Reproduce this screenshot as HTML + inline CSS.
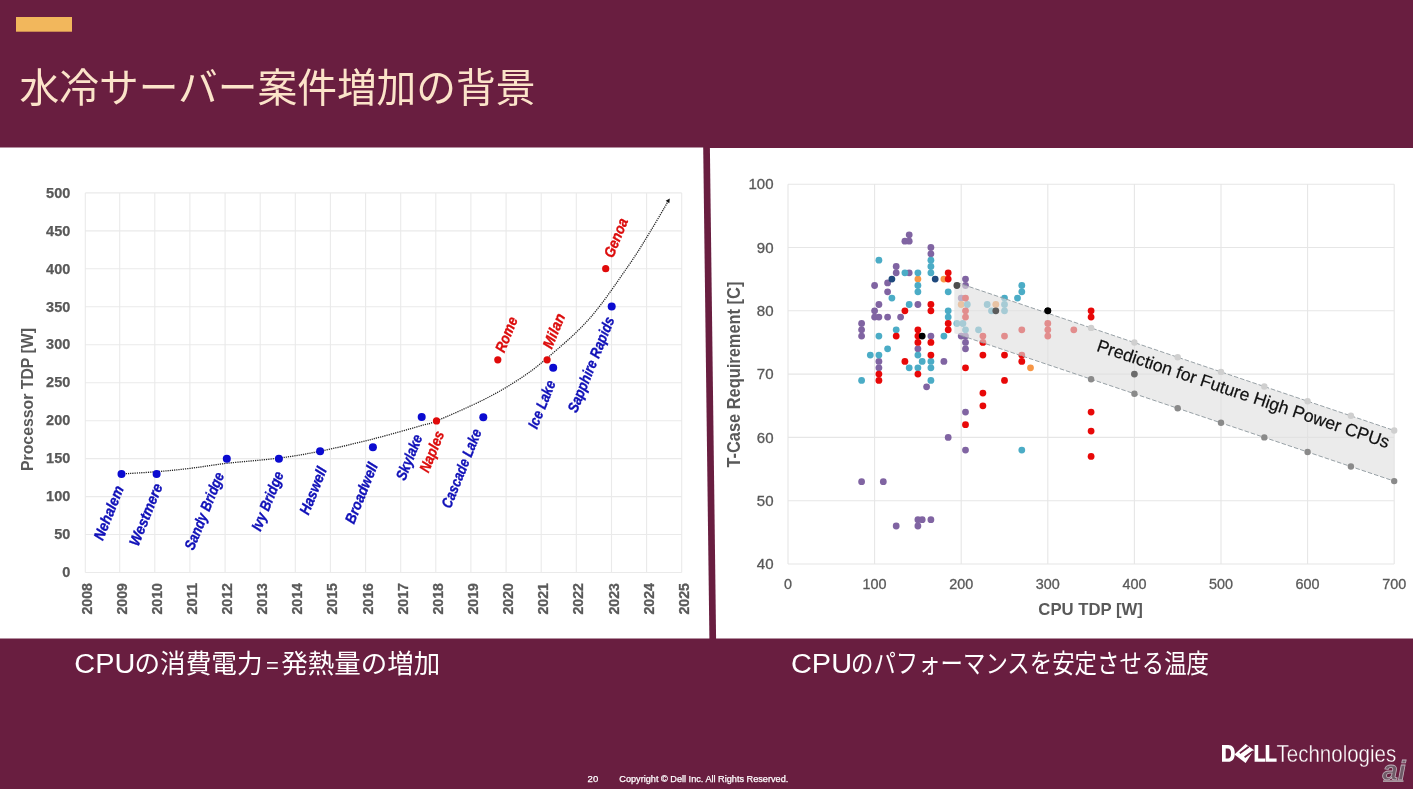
<!DOCTYPE html>
<html lang="ja"><head><meta charset="utf-8"><title>水冷サーバー案件増加の背景</title>
<style>
html,body{margin:0;padding:0;background:#691e40;}
body{width:1413px;height:789px;overflow:hidden;position:relative;font-family:"Liberation Sans", sans-serif;}
svg{position:absolute;left:0;top:0;}
text{font-family:"Liberation Sans", sans-serif;}
.jp{font-family:"Liberation Sans", "Noto Sans CJK JP", sans-serif;}
.sr{position:absolute;left:-9999px;top:-9999px;width:1px;height:1px;overflow:hidden;font-size:1px;color:transparent;}
.ytl{font-weight:bold;font-size:14.5px;fill:#595959;stroke:#595959;stroke-width:0.25px;text-anchor:end;}
.xtl{font-weight:bold;font-size:15.2px;fill:#595959;stroke:#595959;stroke-width:0.3px;text-anchor:end;}
.at{font-weight:bold;font-size:15.5px;fill:#595959;text-anchor:middle;}
.dl{font-weight:bold;font-style:italic;font-size:15px;stroke-width:0.35px;}
.rt{font-size:14.2px;fill:#595959;stroke:#595959;stroke-width:0.3px;}
</style></head><body>
<svg width="1413" height="789" viewBox="0 0 1413 789">
<rect width="1413" height="789" fill="#691e40"/>
<g style="will-change:transform">
<rect x="16" y="17" width="56" height="14.7" fill="#f2b75c"/>
<polygon points="0,147.5 703.2,147.5 709.4,638.5 0,638.5" fill="#fff"/>
<polygon points="709.9,148 1413,148 1413,638.5 716.1,638.5" fill="#fff"/>
<text class="jp" x="19.5" y="101.5" font-size="40" fill="#fbe3c9" textLength="516" lengthAdjust="spacingAndGlyphs">水冷サーバー案件増加の背景</text>
<g style="filter:blur(0.45px)">
<path d="M85.3 192.9V572.5M119.7 192.9V572.5M154.8 192.9V572.5M189.9 192.9V572.5M225.1 192.9V572.5M260.2 192.9V572.5M295.3 192.9V572.5M330.4 192.9V572.5M365.6 192.9V572.5M400.7 192.9V572.5M435.8 192.9V572.5M470.9 192.9V572.5M506.1 192.9V572.5M541.2 192.9V572.5M576.3 192.9V572.5M611.5 192.9V572.5M646.6 192.9V572.5M681.7 192.9V572.5M85.3 572.5H681.7M85.3 534.5H681.7M85.3 496.6H681.7M85.3 458.6H681.7M85.3 420.7H681.7M85.3 382.7H681.7M85.3 344.7H681.7M85.3 306.8H681.7M85.3 268.8H681.7M85.3 230.9H681.7M85.3 192.9H681.7" stroke="#eaeaea" stroke-width="1.1" fill="none"/>
<text class="ytl" x="70.3" y="577.2" textLength="8.1" lengthAdjust="spacingAndGlyphs">0</text>
<text class="ytl" x="70.3" y="539.2" textLength="16.1" lengthAdjust="spacingAndGlyphs">50</text>
<text class="ytl" x="70.3" y="501.3" textLength="24.2" lengthAdjust="spacingAndGlyphs">100</text>
<text class="ytl" x="70.3" y="463.3" textLength="24.2" lengthAdjust="spacingAndGlyphs">150</text>
<text class="ytl" x="70.3" y="425.4" textLength="24.2" lengthAdjust="spacingAndGlyphs">200</text>
<text class="ytl" x="70.3" y="387.4" textLength="24.2" lengthAdjust="spacingAndGlyphs">250</text>
<text class="ytl" x="70.3" y="349.4" textLength="24.2" lengthAdjust="spacingAndGlyphs">300</text>
<text class="ytl" x="70.3" y="311.5" textLength="24.2" lengthAdjust="spacingAndGlyphs">350</text>
<text class="ytl" x="70.3" y="273.5" textLength="24.2" lengthAdjust="spacingAndGlyphs">400</text>
<text class="ytl" x="70.3" y="235.6" textLength="24.2" lengthAdjust="spacingAndGlyphs">450</text>
<text class="ytl" x="70.3" y="197.6" textLength="24.2" lengthAdjust="spacingAndGlyphs">500</text>
<text class="xtl" transform="translate(85.3,583) rotate(-90)" x="0" y="7" textLength="31.5" lengthAdjust="spacingAndGlyphs">2008</text>
<text class="xtl" transform="translate(119.7,583) rotate(-90)" x="0" y="7" textLength="31.5" lengthAdjust="spacingAndGlyphs">2009</text>
<text class="xtl" transform="translate(154.8,583) rotate(-90)" x="0" y="7" textLength="31.5" lengthAdjust="spacingAndGlyphs">2010</text>
<text class="xtl" transform="translate(189.9,583) rotate(-90)" x="0" y="7" textLength="31.5" lengthAdjust="spacingAndGlyphs">2011</text>
<text class="xtl" transform="translate(225.1,583) rotate(-90)" x="0" y="7" textLength="31.5" lengthAdjust="spacingAndGlyphs">2012</text>
<text class="xtl" transform="translate(260.2,583) rotate(-90)" x="0" y="7" textLength="31.5" lengthAdjust="spacingAndGlyphs">2013</text>
<text class="xtl" transform="translate(295.3,583) rotate(-90)" x="0" y="7" textLength="31.5" lengthAdjust="spacingAndGlyphs">2014</text>
<text class="xtl" transform="translate(330.4,583) rotate(-90)" x="0" y="7" textLength="31.5" lengthAdjust="spacingAndGlyphs">2015</text>
<text class="xtl" transform="translate(365.6,583) rotate(-90)" x="0" y="7" textLength="31.5" lengthAdjust="spacingAndGlyphs">2016</text>
<text class="xtl" transform="translate(400.7,583) rotate(-90)" x="0" y="7" textLength="31.5" lengthAdjust="spacingAndGlyphs">2017</text>
<text class="xtl" transform="translate(435.8,583) rotate(-90)" x="0" y="7" textLength="31.5" lengthAdjust="spacingAndGlyphs">2018</text>
<text class="xtl" transform="translate(470.9,583) rotate(-90)" x="0" y="7" textLength="31.5" lengthAdjust="spacingAndGlyphs">2019</text>
<text class="xtl" transform="translate(506.1,583) rotate(-90)" x="0" y="7" textLength="31.5" lengthAdjust="spacingAndGlyphs">2020</text>
<text class="xtl" transform="translate(541.2,583) rotate(-90)" x="0" y="7" textLength="31.5" lengthAdjust="spacingAndGlyphs">2021</text>
<text class="xtl" transform="translate(576.3,583) rotate(-90)" x="0" y="7" textLength="31.5" lengthAdjust="spacingAndGlyphs">2022</text>
<text class="xtl" transform="translate(611.5,583) rotate(-90)" x="0" y="7" textLength="31.5" lengthAdjust="spacingAndGlyphs">2023</text>
<text class="xtl" transform="translate(646.6,583) rotate(-90)" x="0" y="7" textLength="31.5" lengthAdjust="spacingAndGlyphs">2024</text>
<text class="xtl" transform="translate(681.7,583) rotate(-90)" x="0" y="7" textLength="31.5" lengthAdjust="spacingAndGlyphs">2025</text>
<text class="at" style="font-size:16.6px" transform="translate(33.4,399.5) rotate(-90)" textLength="143" lengthAdjust="spacingAndGlyphs">Processor TDP [W]</text>
<path d="M121.5 474.0C127.3 473.6 145.1 472.6 156.6 471.7C168.1 470.8 178.9 469.7 190.6 468.3C202.3 466.9 212.1 465.0 226.8 463.3C241.5 461.6 263.4 460.1 278.9 458.1C294.4 456.1 304.2 454.4 319.7 451.3C335.2 448.2 355.0 443.5 371.7 439.3C388.4 435.1 409.2 429.1 420.0 426.0C430.8 422.9 426.0 425.2 436.5 420.9C447.0 416.6 469.4 406.8 483.0 400.0C496.6 393.2 507.2 387.0 517.9 380.0C528.6 373.0 535.1 368.4 547.1 358.1C559.1 347.8 576.5 333.4 590.0 318.0C603.5 302.6 618.4 280.1 628.4 265.8C638.4 251.5 643.4 242.7 650.0 232.0C656.6 221.3 665.0 206.6 668.0 201.5" stroke="#222" stroke-width="1.3" stroke-dasharray="1.2 1" fill="none"/>
<polygon points="669.8,198.6 669.3,203.2 665.7,200.8" fill="#111"/>
<circle cx="121.5" cy="474.0" r="4" fill="#0b0bd0"/>
<circle cx="156.6" cy="474.0" r="4" fill="#0b0bd0"/>
<circle cx="226.8" cy="458.8" r="4" fill="#0b0bd0"/>
<circle cx="278.9" cy="458.8" r="4" fill="#0b0bd0"/>
<circle cx="320.1" cy="451.3" r="4" fill="#0b0bd0"/>
<circle cx="372.9" cy="447.3" r="4" fill="#0b0bd0"/>
<circle cx="421.7" cy="416.9" r="4" fill="#0b0bd0"/>
<circle cx="483.3" cy="417.2" r="4" fill="#0b0bd0"/>
<circle cx="553.2" cy="367.7" r="4" fill="#0b0bd0"/>
<circle cx="611.7" cy="306.6" r="4" fill="#0b0bd0"/>
<circle cx="436.5" cy="420.9" r="3.6" fill="#e00a0a"/>
<circle cx="497.8" cy="359.8" r="3.6" fill="#e00a0a"/>
<circle cx="547.1" cy="359.8" r="3.6" fill="#e00a0a"/>
<circle cx="605.7" cy="268.7" r="3.6" fill="#e00a0a"/>
<text class="dl" fill="#1010b8" stroke="#1010b8" transform="translate(108.8,512.9) rotate(-68)" x="0" y="5" text-anchor="middle" textLength="57.0" lengthAdjust="spacingAndGlyphs">Nehalem</text>
<text class="dl" fill="#1010b8" stroke="#1010b8" transform="translate(145.9,514.7) rotate(-68)" x="0" y="5" text-anchor="middle" textLength="65.7" lengthAdjust="spacingAndGlyphs">Westmere</text>
<text class="dl" fill="#1010b8" stroke="#1010b8" transform="translate(204.4,511.1) rotate(-68)" x="0" y="5" text-anchor="middle" textLength="82.3" lengthAdjust="spacingAndGlyphs">Sandy Bridge</text>
<text class="dl" fill="#1010b8" stroke="#1010b8" transform="translate(267.6,501.2) rotate(-68)" x="0" y="5" text-anchor="middle" textLength="62.5" lengthAdjust="spacingAndGlyphs">Ivy Bridge</text>
<text class="dl" fill="#1010b8" stroke="#1010b8" transform="translate(313.2,490.8) rotate(-68)" x="0" y="5" text-anchor="middle" textLength="49.6" lengthAdjust="spacingAndGlyphs">Haswell</text>
<text class="dl" fill="#1010b8" stroke="#1010b8" transform="translate(361.4,493.1) rotate(-68)" x="0" y="5" text-anchor="middle" textLength="64.2" lengthAdjust="spacingAndGlyphs">Broadwell</text>
<text class="dl" fill="#1010b8" stroke="#1010b8" transform="translate(409.2,457.3) rotate(-68)" x="0" y="5" text-anchor="middle" textLength="47.8" lengthAdjust="spacingAndGlyphs">Skylake</text>
<text class="dl" fill="#dc0c0c" stroke="#dc0c0c" transform="translate(431.9,451.6) rotate(-68)" x="0" y="5" text-anchor="middle" textLength="43.1" lengthAdjust="spacingAndGlyphs">Naples</text>
<text class="dl" fill="#1010b8" stroke="#1010b8" transform="translate(461.6,468.5) rotate(-68)" x="0" y="5" text-anchor="middle" textLength="83.6" lengthAdjust="spacingAndGlyphs">Cascade Lake</text>
<text class="dl" fill="#1010b8" stroke="#1010b8" transform="translate(541.8,404.5) rotate(-68)" x="0" y="5" text-anchor="middle" textLength="50.4" lengthAdjust="spacingAndGlyphs">Ice Lake</text>
<text class="dl" fill="#1010b8" stroke="#1010b8" transform="translate(591.1,364.6) rotate(-68)" x="0" y="5" text-anchor="middle" textLength="101.6" lengthAdjust="spacingAndGlyphs">Sapphire Rapids</text>
<text class="dl" fill="#dc0c0c" stroke="#dc0c0c" transform="translate(506.4,334.6) rotate(-68)" x="0" y="5" text-anchor="middle" textLength="36.7" lengthAdjust="spacingAndGlyphs">Rome</text>
<text class="dl" fill="#dc0c0c" stroke="#dc0c0c" transform="translate(554.0,330.9) rotate(-68)" x="0" y="5" text-anchor="middle" textLength="36.4" lengthAdjust="spacingAndGlyphs">Milan</text>
<text class="dl" fill="#dc0c0c" stroke="#dc0c0c" transform="translate(616.0,237.8) rotate(-68)" x="0" y="5" text-anchor="middle" textLength="41.2" lengthAdjust="spacingAndGlyphs">Genoa</text>
<path d="M788.0 184.2V564.0M874.6 184.2V564.0M961.2 184.2V564.0M1047.8 184.2V564.0M1134.4 184.2V564.0M1221.0 184.2V564.0M1307.6 184.2V564.0M1394.2 184.2V564.0M788.0 564.0H1394.2M788.0 500.7H1394.2M788.0 437.4H1394.2M788.0 374.1H1394.2M788.0 310.8H1394.2M788.0 247.5H1394.2M788.0 184.2H1394.2" stroke="#e6e6e6" stroke-width="1.1" fill="none"/>
<text class="rt" text-anchor="end" x="773.5" y="569.2" textLength="16.7" lengthAdjust="spacingAndGlyphs">40</text>
<text class="rt" text-anchor="end" x="773.5" y="505.9" textLength="16.7" lengthAdjust="spacingAndGlyphs">50</text>
<text class="rt" text-anchor="end" x="773.5" y="442.6" textLength="16.7" lengthAdjust="spacingAndGlyphs">60</text>
<text class="rt" text-anchor="end" x="773.5" y="379.3" textLength="16.7" lengthAdjust="spacingAndGlyphs">70</text>
<text class="rt" text-anchor="end" x="773.5" y="316.0" textLength="16.7" lengthAdjust="spacingAndGlyphs">80</text>
<text class="rt" text-anchor="end" x="773.5" y="252.7" textLength="16.7" lengthAdjust="spacingAndGlyphs">90</text>
<text class="rt" text-anchor="end" x="773.5" y="189.4" textLength="25.0" lengthAdjust="spacingAndGlyphs">100</text>
<text class="rt" text-anchor="middle" x="788.0" y="589" textLength="8.0" lengthAdjust="spacingAndGlyphs">0</text>
<text class="rt" text-anchor="middle" x="874.6" y="589" textLength="24.0" lengthAdjust="spacingAndGlyphs">100</text>
<text class="rt" text-anchor="middle" x="961.2" y="589" textLength="24.0" lengthAdjust="spacingAndGlyphs">200</text>
<text class="rt" text-anchor="middle" x="1047.8" y="589" textLength="24.0" lengthAdjust="spacingAndGlyphs">300</text>
<text class="rt" text-anchor="middle" x="1134.4" y="589" textLength="24.0" lengthAdjust="spacingAndGlyphs">400</text>
<text class="rt" text-anchor="middle" x="1221.0" y="589" textLength="24.0" lengthAdjust="spacingAndGlyphs">500</text>
<text class="rt" text-anchor="middle" x="1307.6" y="589" textLength="24.0" lengthAdjust="spacingAndGlyphs">600</text>
<text class="rt" text-anchor="middle" x="1394.2" y="589" textLength="24.0" lengthAdjust="spacingAndGlyphs">700</text>
<text class="at" style="font-size:17.5px" transform="translate(739.8,374.6) rotate(-90)" textLength="186" lengthAdjust="spacingAndGlyphs">T-Case Requirement [C]</text>
<text class="at" style="font-size:17px" x="1090.6" y="614.6" textLength="104.5" lengthAdjust="spacingAndGlyphs">CPU TDP [W]</text>
<g fill="#8064a2"><circle cx="909.2" cy="234.8" r="3.4"/><circle cx="904.9" cy="241.2" r="3.4"/><circle cx="909.2" cy="241.2" r="3.4"/><circle cx="930.9" cy="247.5" r="3.4"/><circle cx="930.9" cy="253.8" r="3.4"/><circle cx="896.2" cy="266.5" r="3.4"/><circle cx="896.2" cy="272.8" r="3.4"/><circle cx="909.2" cy="272.8" r="3.4"/><circle cx="887.6" cy="282.9" r="3.4"/><circle cx="874.6" cy="285.5" r="3.4"/><circle cx="965.5" cy="279.1" r="3.4"/><circle cx="965.5" cy="285.5" r="3.4"/><circle cx="887.6" cy="291.8" r="3.4"/><circle cx="878.9" cy="304.5" r="3.4"/><circle cx="917.9" cy="304.5" r="3.4"/><circle cx="874.6" cy="310.8" r="3.4"/><circle cx="874.6" cy="317.1" r="3.4"/><circle cx="878.9" cy="317.1" r="3.4"/><circle cx="887.6" cy="317.1" r="3.4"/><circle cx="900.6" cy="317.1" r="3.4"/><circle cx="861.6" cy="323.5" r="3.4"/><circle cx="861.6" cy="329.8" r="3.4"/><circle cx="861.6" cy="336.1" r="3.4"/><circle cx="961.2" cy="298.1" r="3.4"/><circle cx="930.9" cy="336.1" r="3.4"/><circle cx="917.9" cy="348.8" r="3.4"/><circle cx="878.9" cy="361.4" r="3.4"/><circle cx="878.9" cy="367.8" r="3.4"/><circle cx="943.9" cy="361.4" r="3.4"/><circle cx="926.6" cy="386.8" r="3.4"/><circle cx="961.2" cy="336.1" r="3.4"/><circle cx="965.5" cy="336.1" r="3.4"/><circle cx="965.5" cy="342.4" r="3.4"/><circle cx="965.5" cy="348.8" r="3.4"/><circle cx="965.5" cy="412.1" r="3.4"/><circle cx="948.2" cy="437.4" r="3.4"/><circle cx="965.5" cy="450.1" r="3.4"/><circle cx="861.6" cy="481.7" r="3.4"/><circle cx="883.3" cy="481.7" r="3.4"/><circle cx="896.2" cy="526.0" r="3.4"/><circle cx="917.9" cy="526.0" r="3.4"/><circle cx="917.9" cy="519.7" r="3.4"/><circle cx="922.2" cy="519.7" r="3.4"/><circle cx="930.9" cy="519.7" r="3.4"/></g>
<g fill="#f79646"><circle cx="917.9" cy="279.1" r="3.4"/><circle cx="943.9" cy="279.1" r="3.4"/><circle cx="961.2" cy="304.5" r="3.4"/><circle cx="995.8" cy="304.5" r="3.4"/><circle cx="1030.5" cy="367.8" r="3.4"/></g>
<g fill="#4bacc6"><circle cx="930.9" cy="260.2" r="3.4"/><circle cx="930.9" cy="266.5" r="3.4"/><circle cx="930.9" cy="272.8" r="3.4"/><circle cx="878.9" cy="260.2" r="3.4"/><circle cx="904.9" cy="272.8" r="3.4"/><circle cx="917.9" cy="272.8" r="3.4"/><circle cx="917.9" cy="285.5" r="3.4"/><circle cx="917.9" cy="291.8" r="3.4"/><circle cx="948.2" cy="291.8" r="3.4"/><circle cx="891.9" cy="298.1" r="3.4"/><circle cx="909.2" cy="304.5" r="3.4"/><circle cx="948.2" cy="310.8" r="3.4"/><circle cx="948.2" cy="317.1" r="3.4"/><circle cx="896.2" cy="329.8" r="3.4"/><circle cx="878.9" cy="336.1" r="3.4"/><circle cx="943.9" cy="336.1" r="3.4"/><circle cx="887.6" cy="348.8" r="3.4"/><circle cx="870.3" cy="355.1" r="3.4"/><circle cx="878.9" cy="355.1" r="3.4"/><circle cx="917.9" cy="355.1" r="3.4"/><circle cx="922.2" cy="361.4" r="3.4"/><circle cx="930.9" cy="361.4" r="3.4"/><circle cx="909.2" cy="367.8" r="3.4"/><circle cx="917.9" cy="367.8" r="3.4"/><circle cx="930.9" cy="367.8" r="3.4"/><circle cx="861.6" cy="380.4" r="3.4"/><circle cx="930.9" cy="380.4" r="3.4"/><circle cx="967.3" cy="304.5" r="3.4"/><circle cx="956.9" cy="323.5" r="3.4"/><circle cx="962.9" cy="323.5" r="3.4"/><circle cx="965.5" cy="329.8" r="3.4"/><circle cx="978.5" cy="329.8" r="3.4"/><circle cx="987.2" cy="304.5" r="3.4"/><circle cx="991.5" cy="310.8" r="3.4"/><circle cx="1004.5" cy="298.1" r="3.4"/><circle cx="1004.5" cy="304.5" r="3.4"/><circle cx="1004.5" cy="310.8" r="3.4"/><circle cx="1021.8" cy="285.5" r="3.4"/><circle cx="1021.8" cy="291.8" r="3.4"/><circle cx="1017.5" cy="298.1" r="3.4"/><circle cx="1021.8" cy="450.1" r="3.4"/></g>
<g fill="#1f497d"><circle cx="891.9" cy="279.1" r="3.4"/><circle cx="935.2" cy="279.1" r="3.4"/></g>
<g fill="#e80808"><circle cx="948.2" cy="272.8" r="3.4"/><circle cx="948.2" cy="279.1" r="3.4"/><circle cx="930.9" cy="304.5" r="3.4"/><circle cx="930.9" cy="310.8" r="3.4"/><circle cx="904.9" cy="310.8" r="3.4"/><circle cx="948.2" cy="323.5" r="3.4"/><circle cx="948.2" cy="329.8" r="3.4"/><circle cx="917.9" cy="329.8" r="3.4"/><circle cx="896.2" cy="336.1" r="3.4"/><circle cx="917.9" cy="336.1" r="3.4"/><circle cx="917.9" cy="342.4" r="3.4"/><circle cx="930.9" cy="342.4" r="3.4"/><circle cx="930.9" cy="355.1" r="3.4"/><circle cx="904.9" cy="361.4" r="3.4"/><circle cx="878.9" cy="374.1" r="3.4"/><circle cx="878.9" cy="380.4" r="3.4"/><circle cx="917.9" cy="374.1" r="3.4"/><circle cx="965.5" cy="298.1" r="3.4"/><circle cx="965.5" cy="310.8" r="3.4"/><circle cx="965.5" cy="317.1" r="3.4"/><circle cx="965.5" cy="367.8" r="3.4"/><circle cx="982.9" cy="336.1" r="3.4"/><circle cx="982.9" cy="342.4" r="3.4"/><circle cx="982.9" cy="355.1" r="3.4"/><circle cx="982.9" cy="393.1" r="3.4"/><circle cx="982.9" cy="405.8" r="3.4"/><circle cx="965.5" cy="424.7" r="3.4"/><circle cx="1004.5" cy="336.1" r="3.4"/><circle cx="1004.5" cy="355.1" r="3.4"/><circle cx="1004.5" cy="380.4" r="3.4"/><circle cx="1021.8" cy="329.8" r="3.4"/><circle cx="1021.8" cy="355.1" r="3.4"/><circle cx="1021.8" cy="361.4" r="3.4"/><circle cx="1047.8" cy="323.5" r="3.4"/><circle cx="1047.8" cy="329.8" r="3.4"/><circle cx="1047.8" cy="336.1" r="3.4"/><circle cx="1073.8" cy="329.8" r="3.4"/><circle cx="1091.1" cy="310.8" r="3.4"/><circle cx="1091.1" cy="317.1" r="3.4"/><circle cx="1091.1" cy="412.1" r="3.4"/><circle cx="1091.1" cy="431.1" r="3.4"/><circle cx="1091.1" cy="456.4" r="3.4"/></g>
<g fill="#000"><circle cx="922.2" cy="336.1" r="3.4"/><circle cx="1047.8" cy="310.8" r="3.4"/></g>
<polygon points="954.3,281.6 1394.2,430.5 1394.2,481.1 954.3,333.2" fill="#dfdfdf" fill-opacity="0.62"/>
<path d="M956.9 282.5L1394.2 430.5M961.2 335.5L1394.2 481.1" stroke="#929ca1" stroke-width="0.95" stroke-dasharray="4.5 2" fill="none"/>
<g fill="#cfcfcf"><circle cx="1091.1" cy="327.9" r="3.2"/><circle cx="1134.4" cy="342.5" r="3.2"/><circle cx="1177.7" cy="357.2" r="3.2"/><circle cx="1221.0" cy="371.9" r="3.2"/><circle cx="1264.3" cy="386.5" r="3.2"/><circle cx="1307.6" cy="401.2" r="3.2"/><circle cx="1350.9" cy="415.8" r="3.2"/><circle cx="1394.2" cy="430.5" r="3.2"/></g>
<g fill="#8a8a8a"><circle cx="1091.1" cy="379.2" r="3.2"/><circle cx="1134.4" cy="393.7" r="3.2"/><circle cx="1177.7" cy="408.3" r="3.2"/><circle cx="1221.0" cy="422.8" r="3.2"/><circle cx="1264.3" cy="437.4" r="3.2"/><circle cx="1307.6" cy="452.0" r="3.2"/><circle cx="1350.9" cy="466.5" r="3.2"/><circle cx="1394.2" cy="481.1" r="3.2"/></g>
<g fill="#000"><circle cx="1047.8" cy="310.8" r="3.4"/></g>
<g fill="#4d4d4d"><circle cx="956.9" cy="285.5" r="3.4"/></g>
<g fill="#5c5c5c"><circle cx="995.8" cy="310.8" r="3.4"/></g>
<g fill="#6b6b6b"><circle cx="1134.4" cy="374.1" r="3.4"/></g>
<text transform="translate(1096.4,351) rotate(18.5)" x="-0.8" y="0" font-size="17.6" fill="#111" stroke="#111" stroke-width="0.2" textLength="307.5" lengthAdjust="spacingAndGlyphs">Prediction for Future High Power CPUs</text>
</g>
<text class="jp" x="134.5" y="673.4" font-size="26" fill="#fff" textLength="128" lengthAdjust="spacingAndGlyphs">の消費電力</text>
<text x="74.3" y="673.4" font-size="26.8" fill="#fff" textLength="61" lengthAdjust="spacingAndGlyphs">CPU</text>
<text x="266" y="672.5" font-size="22" fill="#fff">=</text>
<text class="jp" x="281.2" y="673.4" font-size="26" fill="#fff" textLength="159" lengthAdjust="spacingAndGlyphs">発熱量の増加</text>
<text class="jp" x="851" y="672.6" font-size="26" fill="#fff" textLength="358" lengthAdjust="spacingAndGlyphs">のパフォーマンスを安定させる温度</text>
<text x="791" y="672.6" font-size="26.8" fill="#fff" textLength="61" lengthAdjust="spacingAndGlyphs">CPU</text>
<g fill="#fff" stroke="#fff" stroke-width="0.25" font-size="9.4"><text x="587.6" y="782" textLength="10.6" lengthAdjust="spacingAndGlyphs">20</text>
<text x="619.3" y="782" textLength="169" lengthAdjust="spacingAndGlyphs">Copyright © Dell Inc. All Rights Reserved.</text></g>
<g fill="#fff">
<path fill-rule="evenodd" d="M1222 745.1h6.2c4.2 0 6.6 3 6.6 8.3s-2.4 8.3-6.6 8.3h-6.2zM1225.7 748.4v10h2.2c2 0 3.2-1.8 3.2-5s-1.2-5-3.2-5z"/>
<polygon points="1234.4,754.4 1245.6,744 1253.8,750 1245.6,762.9"/>
<path d="M1254.6 745.1h3.6v13.3h7v3.3h-10.6zM1265.7 745.1h3.6v13.3h7.3v3.3h-10.9z"/>
</g>
<path d="M1239.8 753.3L1248.7 746.8M1244.6 757.3L1253 751.3" stroke="#691e40" stroke-width="1.7" fill="none"/>
<text x="1276.6" y="761.7" font-size="23.6" fill="#fff" stroke="#691e40" stroke-width="0.35" textLength="119.6" lengthAdjust="spacingAndGlyphs">Technologies</text>
<text x="1382.6" y="779.8" font-size="27" font-weight="bold" font-style="italic" fill="#6f5b67" stroke="#bfb0ba" stroke-width="0.8" textLength="23" lengthAdjust="spacingAndGlyphs">ai</text>
<rect x="1383" y="780.2" width="20.5" height="1.8" fill="#a8979f"/>
</g>
</svg>
<div class="sr">水冷サーバー案件増加の背景 CPUの消費電力=発熱量の増加 CPUのパフォーマンスを安定させる温度 Dell Technologies</div>
</body></html>
